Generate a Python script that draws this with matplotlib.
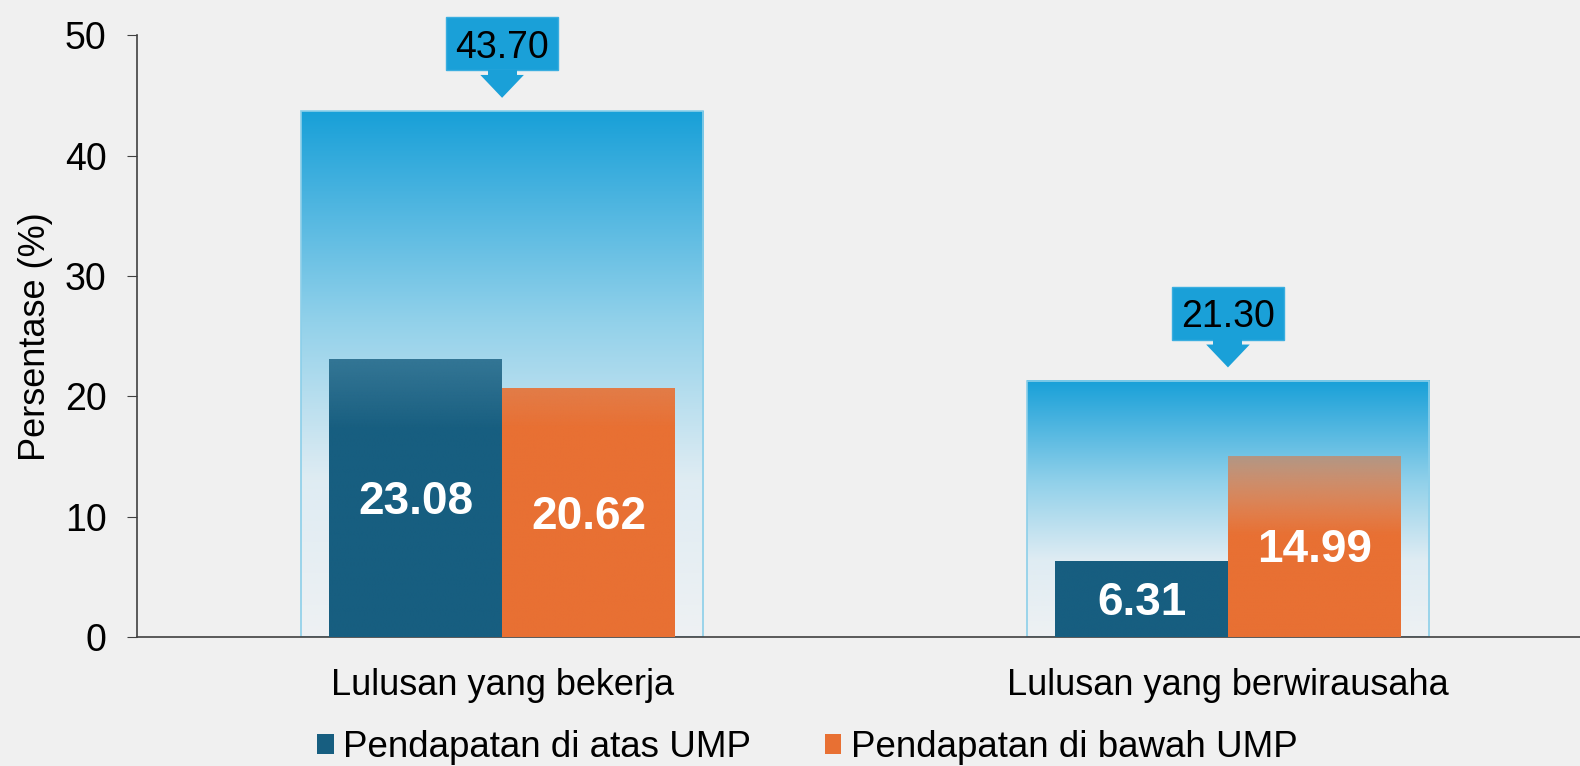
import matplotlib.pyplot as plt
import numpy as np
from matplotlib.colors import LinearSegmentedColormap, to_rgb
from matplotlib.patches import Rectangle, Polygon, Patch

plt.rcParams['font.family'] = ['Liberation Sans', 'DejaVu Sans']

# --- data ---
categories = ['Lulusan yang bekerja', 'Lulusan yang berwirausaha']
total = [43.70, 21.30]
above_ump = [23.08, 6.31]
below_ump = [20.62, 14.99]
series = ['Pendapatan di atas UMP', 'Pendapatan di bawah UMP']

BG = '#f0f0f0'
BLUE = '#175e80'
ORANGE = '#e87033'
CALLOUT = '#1aa0d8'

fig = plt.figure(figsize=(15.8, 7.66), dpi=100, facecolor=BG)
ax = fig.add_axes([0.0867, 0.1684, 0.9133, 0.7856])
ax.set_facecolor(BG)

x = np.arange(len(categories))
w_total = 0.554
w_bar = 0.238

bg_cmap = LinearSegmentedColormap.from_list('bgblue', [
    (0.0, '#eef1f3'), (0.3, '#dfecf3'), (0.6, '#92d1ea'),
    (0.85, '#46b2df'), (1.0, '#18a0d8')])

grad = np.linspace(0, 1, 256).reshape(-1, 1)


def gradient_bar(ax, x0, x1, top, group_top, color, zorder):
    # bar gets see-through towards the upper part of its group box
    rgb = np.array(to_rgb(color))
    yy = np.linspace(top, 0, 256)
    frac = yy / group_top
    alpha = np.clip(1 - (frac - 0.4) * 1.5, 0.4, 1)
    img = np.zeros((256, 1, 4))
    img[:, 0, :3] = rgb
    img[:, 0, 3] = alpha
    ax.imshow(img, extent=(x0, x1, 0, top), origin='upper', aspect='auto',
              interpolation='bilinear', zorder=zorder)


for i in range(len(categories)):
    # background total bar with gradient
    x0, x1 = x[i] - w_total / 2, x[i] + w_total / 2
    ax.imshow(grad, extent=(x0, x1, 0, total[i]), origin='lower', cmap=bg_cmap,
              aspect='auto', interpolation='bicubic', zorder=1)
    ax.add_patch(Rectangle((x0, 0), w_total, total[i], fill=False,
                           edgecolor='#8ccfe9', lw=1.2, zorder=2))

    # sub bars
    gradient_bar(ax, x[i] - w_bar, x[i], above_ump[i], total[i], BLUE, 3)
    gradient_bar(ax, x[i], x[i] + w_bar, below_ump[i], total[i], ORANGE, 3)
    ax.text(x[i] - w_bar / 2, above_ump[i] / 2 - 0.3, f'{above_ump[i]:.2f}', ha='center',
            va='center', color='white', fontsize=33, fontweight='bold', zorder=5)
    ax.text(x[i] + w_bar / 2, below_ump[i] / 2 - 0.3, f'{below_ump[i]:.2f}', ha='center',
            va='center', color='white', fontsize=33, fontweight='bold', zorder=5)

    # callout box with arrow
    bw = 0.154
    tip = total[i] + 1.1
    b0 = total[i] + 3.4
    b1 = b0 + 4.4
    ax.add_patch(Rectangle((x[i] - bw / 2, b0), bw, b1 - b0, facecolor=CALLOUT,
                           edgecolor='#3aaee0', lw=1, zorder=4, clip_on=False))
    ax.add_patch(Polygon([(x[i] - 0.03, b0 - 0.4), (x[i] + 0.03, b0 - 0.4), (x[i], tip)],
                         closed=True, facecolor=CALLOUT, edgecolor='none', zorder=4,
                         clip_on=False))
    ax.add_patch(Rectangle((x[i] - 0.02, b0 - 0.45), 0.04, 0.5, facecolor=CALLOUT,
                           edgecolor='none', zorder=4, clip_on=False))
    ax.text(x[i], (b0 + b1) / 2, f'{total[i]:.2f}', ha='center', va='center_baseline',
            fontsize=27, color='black', zorder=5, clip_on=False)

ax.set_xlim(-0.503, 1.485)
ax.set_ylim(0, 50)
ax.set_yticks(range(0, 51, 10))
ax.set_xticks(x)
ax.set_xticklabels(categories, fontsize=26)
ax.tick_params(axis='x', length=0, pad=22)
ax.tick_params(axis='y', labelsize=27, length=7, color='#404040', pad=15)
fig.text(36 / 1580, 0.561, 'Persentase (%)', rotation=90, ha='center', va='center',
         fontsize=26)

for s in ['top', 'right']:
    ax.spines[s].set_visible(False)
for s in ['left', 'bottom']:
    ax.spines[s].set_color('#404040')
    ax.spines[s].set_linewidth(1.2)

handles = [Patch(facecolor=BLUE), Patch(facecolor=ORANGE)]
fig.legend(handles, series, loc='center', bbox_to_anchor=(0.511, 0.024), ncol=2,
           frameon=False, fontsize=26.5, handlelength=0.45, handleheight=0.45,
           handletextpad=0.25, columnspacing=2.0, borderpad=0, borderaxespad=0)

fig.savefig('out.png', dpi=100, facecolor=BG)
